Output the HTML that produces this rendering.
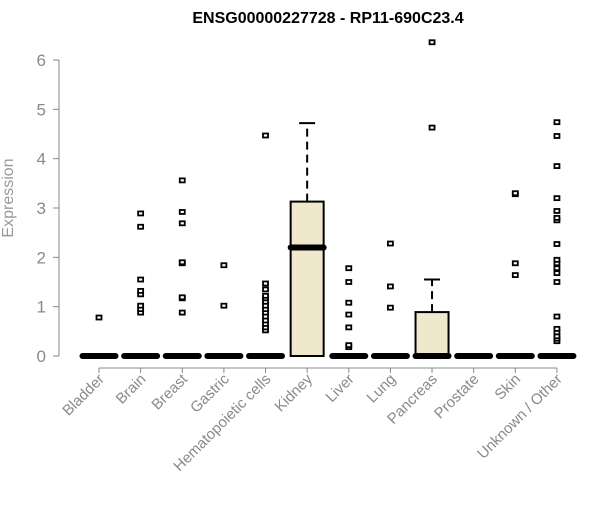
<!DOCTYPE html>
<html><head><meta charset="utf-8"><style>
body{margin:0;background:#fff;font-family:"Liberation Sans",Arial,sans-serif}
</style></head><body>
<svg id="chart" width="600" height="500" xmlns="http://www.w3.org/2000/svg">
<text x="328" y="23" text-anchor="middle" font-weight="bold" font-size="16" fill="#000">ENSG00000227728 - RP11-690C23.4</text>
<text transform="translate(13,198) rotate(-90)" text-anchor="middle" font-size="16" fill="#999">Expression</text>
<g id="axes"></g><g id="marks"></g>
</svg>
<script>
const categories=["Bladder","Brain","Breast","Gastric","Hematopoietic cells","Kidney","Liver","Lung","Pancreas","Prostate","Skin","Unknown / Other"];
const q1=[0,0,0,0,0,0,0,0,0,0,0,0];
const medians=[0,0,0,0,0,2.2,0,0,0,0,0,0];
const q3=[0,0,0,0,0,3.13,0,0,0.89,0,0,0];
const whiskerHi=[0,0,0,0,0,4.72,0,0,1.55,0,0,0];
const outliers=[[0.78],[0.88,0.95,1.02,1.25,1.32,1.55,2.62,2.89],[0.88,1.17,1.19,1.88,1.9,2.69,2.92,3.56],[1.02,1.84],[0.52,0.58,0.65,0.72,0.8,0.88,0.95,1.02,1.1,1.17,1.22,1.35,1.47,4.47],[],[0.18,0.22,0.58,0.84,1.08,1.5,1.78],[0.98,1.41,2.28],[4.63,6.36],[],[1.64,1.88,3.28,3.3],[0.3,0.35,0.4,0.48,0.55,0.8,1.5,1.68,1.78,1.88,1.95,2.27,2.75,2.8,2.94,3.2,3.85,4.46,4.74]];
const yTicks=[0,1,2,3,4,5,6];
const NS="http://www.w3.org/2000/svg";
const y=v=>356-v*49.33;
const x=i=>99+i*41.63;
const axes=document.getElementById('axes'),marks=document.getElementById('marks');
function mk(tag,attrs,parent){const e=document.createElementNS(NS,tag);for(const k in attrs)e.setAttribute(k,attrs[k]);parent.appendChild(e);return e;}
let l=mk('line',{x1:59,x2:59,y1:y(0),y2:y(6),stroke:'#888'},axes);


yTicks.forEach(t=>{
  const tk=mk('line',{x1:53,x2:59,y1:y(t),y2:y(t),stroke:'#888'},axes);
  
  
  const tx=mk('text',{x:46,y:y(t)+6,'text-anchor':'end','font-size':17,fill:'#8a8a8a'},axes);
  tx.textContent=t;
  
  
});
l=mk('line',{x1:x(0),x2:x(categories.length-1),y1:368,y2:368,stroke:'#888'},axes);


categories.forEach((c,i)=>{
  const cx=x(i);
  const tk=mk('line',{x1:cx,x2:cx,y1:368,y2:373,stroke:'#888'},axes);
  
  
  const tx=mk('text',{transform:`translate(${cx+6},${380}) rotate(-45)`,'text-anchor':'end','font-size':15,fill:'#8a8a8a'},axes);
  tx.textContent=c;
  
  
  const g=mk('g',{},marks);
  
  
  const hw=16.5;
  if(whiskerHi[i]>q3[i]){
    mk('line',{x1:cx,x2:cx,y1:y(q3[i]),y2:y(whiskerHi[i]),stroke:'#000','stroke-width':2,'stroke-dasharray':'8,5'},g);
    mk('line',{x1:cx-8,x2:cx+8,y1:y(whiskerHi[i]),y2:y(whiskerHi[i]),stroke:'#000','stroke-width':2},g);
  }
  if(q3[i]>q1[i]) mk('rect',{x:cx-hw,y:y(q3[i]),width:hw*2,height:y(q1[i])-y(q3[i]),fill:'#efe8cd',stroke:'#000','stroke-width':2},g);
  mk('line',{x1:cx-hw,x2:cx+hw,y1:y(medians[i]),y2:y(medians[i]),stroke:'#000','stroke-width':6,'stroke-linecap':'round'},g);
  outliers[i].forEach(v=>{
    const p=mk('rect',{x:cx-2.5,y:y(v)-2,width:5,height:4,fill:'#fff',stroke:'#000','stroke-width':1.8},g);
    
    
  });
});
</script>
</body></html>
